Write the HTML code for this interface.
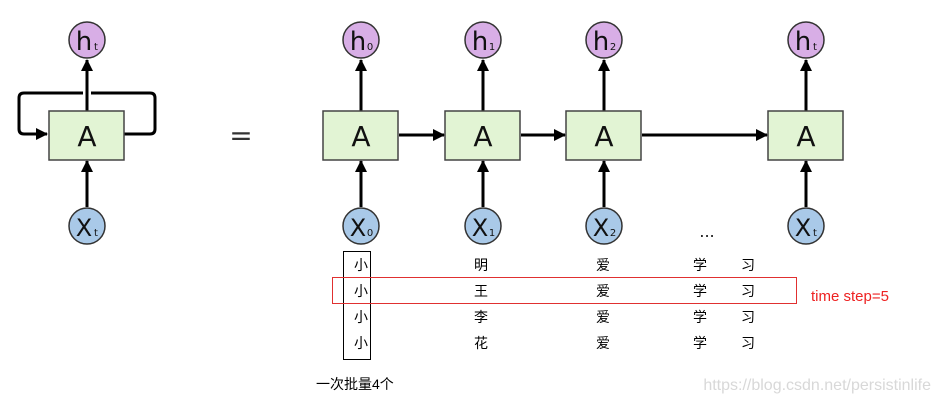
<!DOCTYPE html>
<html><head><meta charset="utf-8"><style>
body{margin:0;background:#fff;width:931px;height:402px;overflow:hidden}
svg{display:block}
.t{font-family:"Liberation Sans","Noto Sans CJK SC",sans-serif;font-size:14px;fill:#000}
</style></head><body>
<svg width="931" height="402" viewBox="0 0 931 402" xmlns="http://www.w3.org/2000/svg">
<defs>
<marker id="ar" markerWidth="12" markerHeight="12" refX="11" refY="6" orient="auto" markerUnits="userSpaceOnUse">
<path d="M0,0 L12,6 L0,12 z" fill="#000"/></marker>
<g id="cell">
<line x1="0" y1="207" x2="0" y2="161" stroke="#000" stroke-width="3" marker-end="url(#ar)"/>
<line x1="0" y1="111" x2="0" y2="60" stroke="#000" stroke-width="3" marker-end="url(#ar)"/>
<rect x="-38" y="111" width="75" height="49" fill="#e2f4d4" stroke="#444" stroke-width="1.5"/>
<text x="0" y="146" text-anchor="middle" font-family="DejaVu Sans,sans-serif" font-size="28" fill="#111">A</text>
<circle cx="0" cy="40" r="18" fill="#d8aee6" stroke="#333" stroke-width="1.5"/>
<circle cx="0" cy="226" r="18" fill="#a9c9e8" stroke="#333" stroke-width="1.5"/>
</g>
</defs>
<path d="M83,93 L24,93 Q19,93 19,98 L19,129 Q19,134 24,134 L47,134" fill="none" stroke="#000" stroke-width="3" marker-end="url(#ar)"/>
<path d="M91,93 L150,93 Q155,93 155,98 L155,129 Q155,134 150,134 L124,134" fill="none" stroke="#000" stroke-width="3"/>
<use href="#cell" x="87"/>
<text x="241" y="145" text-anchor="middle" font-family="DejaVu Sans,sans-serif" font-size="28" fill="#333">=</text>
<use href="#cell" x="361"/>
<use href="#cell" x="483"/>
<use href="#cell" x="604"/>
<use href="#cell" x="806"/>
<line x1="399" y1="135" x2="444" y2="135" stroke="#000" stroke-width="3" marker-end="url(#ar)"/>
<line x1="521" y1="135" x2="565" y2="135" stroke="#000" stroke-width="3" marker-end="url(#ar)"/>
<line x1="642" y1="135" x2="767" y2="135" stroke="#000" stroke-width="3" marker-end="url(#ar)"/>
<g font-family="DejaVu Sans,sans-serif" fill="#111" text-anchor="middle">
<text x="84" y="50" font-size="26">h</text><text x="96" y="50" font-size="10">t</text>
<text x="84" y="236" font-size="24">X</text><text x="96" y="236" font-size="10">t</text>
<text x="358" y="50" font-size="26">h</text><text x="370" y="50" font-size="10">0</text>
<text x="358" y="236" font-size="24">X</text><text x="370" y="236" font-size="10">0</text>
<text x="480" y="50" font-size="26">h</text><text x="492" y="50" font-size="10">1</text>
<text x="480" y="236" font-size="24">X</text><text x="492" y="236" font-size="10">1</text>
<text x="601" y="50" font-size="26">h</text><text x="613" y="50" font-size="10">2</text>
<text x="601" y="236" font-size="24">X</text><text x="613" y="236" font-size="10">2</text>
<text x="803" y="50" font-size="26">h</text><text x="815" y="50" font-size="10">t</text>
<text x="803" y="236" font-size="24">X</text><text x="815" y="236" font-size="10">t</text>
<text x="707" y="237" font-size="16">...</text>
</g>
<g text-anchor="middle">
<text class="t" x="361" y="270">小</text><text class="t" x="481" y="270">明</text><text class="t" x="603" y="270">爱</text><text class="t" x="700" y="270">学</text><text class="t" x="748" y="270">习</text>
<text class="t" x="361" y="296">小</text><text class="t" x="481" y="296">王</text><text class="t" x="603" y="296">爱</text><text class="t" x="700" y="296">学</text><text class="t" x="748" y="296">习</text>
<text class="t" x="361" y="322">小</text><text class="t" x="481" y="322">李</text><text class="t" x="603" y="322">爱</text><text class="t" x="700" y="322">学</text><text class="t" x="748" y="322">习</text>
<text class="t" x="361" y="348">小</text><text class="t" x="481" y="348">花</text><text class="t" x="603" y="348">爱</text><text class="t" x="700" y="348">学</text><text class="t" x="748" y="348">习</text>
</g>
<rect x="343.5" y="251.5" width="27" height="108" fill="none" stroke="#000" stroke-width="1"/>
<rect x="332.5" y="277.5" width="464" height="26" fill="none" stroke="#e03030" stroke-width="1"/>
<text x="811" y="301" font-family="Liberation Sans,sans-serif" font-size="15" fill="#ee2222">time step=5</text>
<text x="316" y="389" font-family="Liberation Sans,'Noto Sans CJK SC',sans-serif" font-size="14" fill="#000">一次批量4个</text>
<text x="931" y="390" text-anchor="end" font-family="Liberation Sans,sans-serif" font-size="16" fill="#d8d8d8">https://blog.csdn.net/persistinlife</text>
</svg>
</body></html>
